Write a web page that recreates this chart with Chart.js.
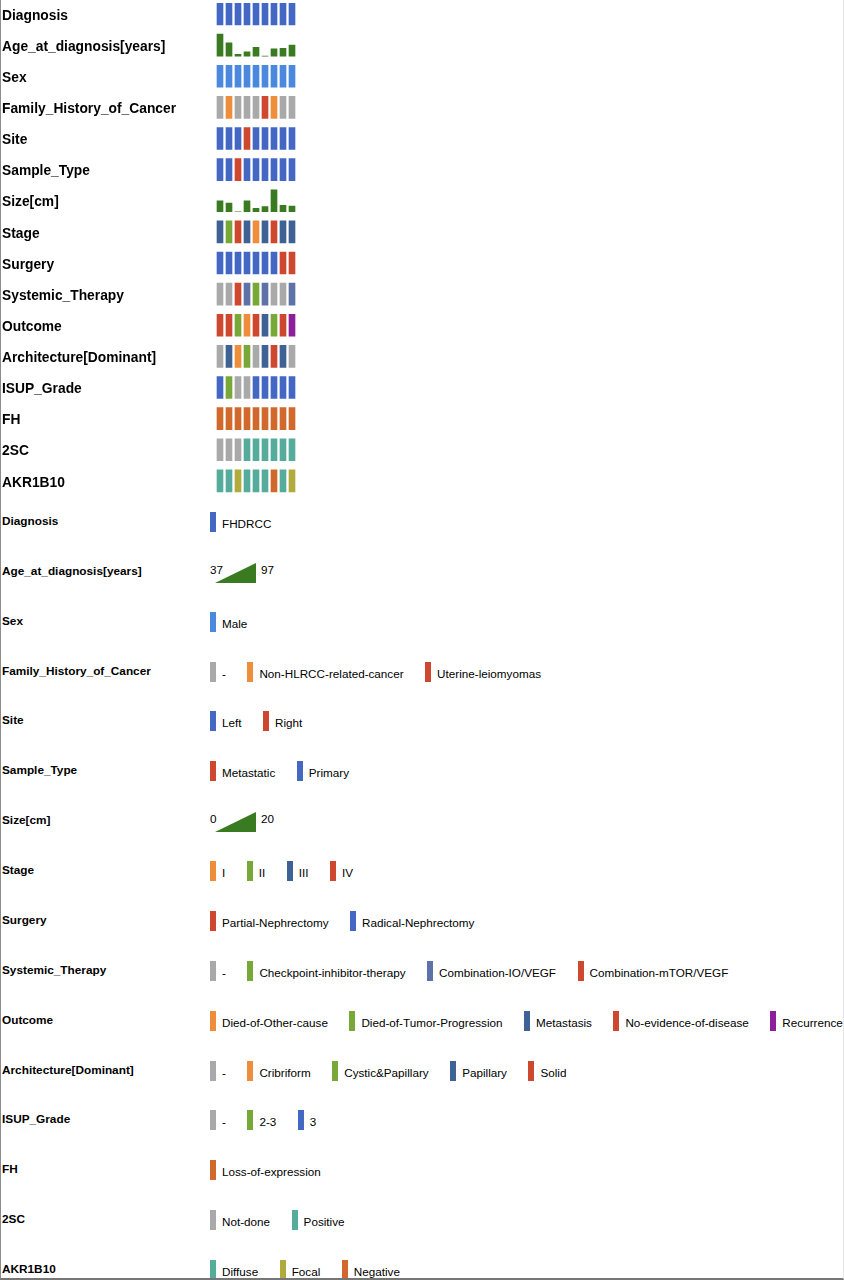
<!DOCTYPE html>
<html>
<head>
<meta charset="utf-8">
<script src="https://cdn.jsdelivr.net/npm/chart.js@4.4.1/dist/chart.umd.min.js"></script>
<style>
  html, body { margin: 0; padding: 0; background: #fff; }
  #frame { position: relative; width: 844px; height: 1280px; overflow: hidden;
           font-family: "Liberation Sans", Arial, Helvetica, sans-serif; color: #000; }
  #heatmap { position: absolute; left: 0; top: 0; }
  #edge { position: absolute; left: 0; top: 0; width: 844px; height: 1280px; box-sizing: border-box;
          border-left: 1px solid #8c8c8c; border-bottom: 2px solid #777; border-right: 1px solid #e6e6e6;
          pointer-events: none; }
  .lrow { position: absolute; left: 0; width: 844px; height: 22px; }
  .lname { position: absolute; left: 2px; top: 0; font-size: 11.8px; font-weight: bold; line-height: 18px; white-space: nowrap; }
  .litems { position: absolute; left: 210px; top: 0; display: flex; white-space: nowrap; }
  .litem { display: flex; align-items: flex-start; margin-right: 21.5px; }
  .sw { width: 6px; height: 20px; }
  .lt { margin-left: 6px; font-size: 11.7px; line-height: 20px; position: relative; top: 2px; }
  .lrange { position: relative; width: 90px; height: 22px; }
  .lrange span { position: absolute; top: 0; font-size: 11.7px; line-height: 16px; }
  .lrange svg { position: absolute; left: 5px; top: 1px; }
</style>
</head>
<body>
<div id="frame">
  <canvas id="heatmap" width="844" height="505"></canvas>
  <div id="legend"></div>
  <div id="edge"></div>
</div>
<script>
// samples (columns)
const sampleIds = ['P1', 'P2', 'P3', 'P4', 'P5', 'P6', 'P7', 'P8', 'P9'];

// annotation values per sample
const diagnosis = ['FHDRCC', 'FHDRCC', 'FHDRCC', 'FHDRCC', 'FHDRCC', 'FHDRCC', 'FHDRCC', 'FHDRCC', 'FHDRCC'];
const ageAtDiagnosis = [97, 73, 42, 49, 61, 37, 57, 58, 67];
const sex = ['Male', 'Male', 'Male', 'Male', 'Male', 'Male', 'Male', 'Male', 'Male'];
const familyHistory = ['-', 'Non-HLRCC-related-cancer', '-', '-', '-', 'Uterine-leiomyomas', 'Non-HLRCC-related-cancer', '-', '-'];
const site = ['Left', 'Left', 'Left', 'Right', 'Left', 'Left', 'Left', 'Left', 'Left'];
const sampleType = ['Primary', 'Primary', 'Metastatic', 'Primary', 'Primary', 'Primary', 'Primary', 'Primary', 'Primary'];
const sizeCm = [10, 7.8, 0, 10, 3, 4.8, 20, 5.8, 5.2];
const stage = ['III', 'II', 'IV', 'III', 'I', 'III', 'IV', 'III', 'III'];
const surgery = ['Radical-Nephrectomy', 'Radical-Nephrectomy', 'Radical-Nephrectomy', 'Radical-Nephrectomy', 'Radical-Nephrectomy',
                 'Radical-Nephrectomy', 'Radical-Nephrectomy', 'Partial-Nephrectomy', 'Partial-Nephrectomy'];
const systemicTherapy = ['-', '-', 'Combination-mTOR/VEGF', 'Combination-IO/VEGF', 'Checkpoint-inhibitor-therapy',
                         'Combination-IO/VEGF', '-', '-', 'Combination-IO/VEGF'];
const outcome = ['No-evidence-of-disease', 'No-evidence-of-disease', 'Died-of-Tumor-Progression', 'Died-of-Other-cause',
                 'No-evidence-of-disease', 'Metastasis', 'Died-of-Tumor-Progression', 'No-evidence-of-disease', 'Recurrence'];
const architecture = ['-', 'Papillary', 'Cribriform', 'Cystic&Papillary', '-', 'Papillary', 'Solid', 'Papillary', '-'];
const isupGrade = ['3', '2-3', '-', '-', '3', '3', '3', '3', '3'];
const fhStatus = ['Loss-of-expression', 'Loss-of-expression', 'Loss-of-expression', 'Loss-of-expression', 'Loss-of-expression',
                  'Loss-of-expression', 'Loss-of-expression', 'Loss-of-expression', 'Loss-of-expression'];
const twoSC = ['Not-done', 'Not-done', 'Not-done', 'Positive', 'Positive', 'Positive', 'Positive', 'Positive', 'Positive'];
const akr1b10 = ['Diffuse', 'Diffuse', 'Focal', 'Diffuse', 'Diffuse', 'Diffuse', 'Negative', 'Diffuse', 'Focal'];

// legend levels
const diagnosisLevels = ['FHDRCC'];
const sexLevels = ['Male'];
const familyLevels = ['-', 'Non-HLRCC-related-cancer', 'Uterine-leiomyomas'];
const siteLevels = ['Left', 'Right'];
const sampleTypeLevels = ['Metastatic', 'Primary'];
const stageLevels = ['I', 'II', 'III', 'IV'];
const surgeryLevels = ['Partial-Nephrectomy', 'Radical-Nephrectomy'];
const therapyLevels = ['-', 'Checkpoint-inhibitor-therapy', 'Combination-IO/VEGF', 'Combination-mTOR/VEGF'];
const outcomeLevels = ['Died-of-Other-cause', 'Died-of-Tumor-Progression', 'Metastasis', 'No-evidence-of-disease', 'Recurrence'];
const architectureLevels = ['-', 'Cribriform', 'Cystic&Papillary', 'Papillary', 'Solid'];
const isupLevels = ['-', '2-3', '3'];
const fhLevels = ['Loss-of-expression'];
const twoSCLevels = ['Not-done', 'Positive'];
const akrLevels = ['Diffuse', 'Focal', 'Negative'];
const ageRange = [37, 97];
const sizeRange = [0, 20];

// colours
const BLUE = '#4467C4', LBLUE = '#4A89DD', GREY = '#A9A9A9', ORANGE = '#EE8E3B', RED = '#CE472F',
      GREEN = '#78A938', NAVY = '#3E6294', SLATE = '#5F72A7', PURPLE = '#8E1F9B', RUST = '#D0692B',
      TEAL = '#55AC9A', OLIVE = '#B0AC3B', NUMGREEN = '#3A7B22';
const diagnosisColors = [BLUE];
const sexColors = [LBLUE];
const familyColors = [GREY, ORANGE, RED];
const siteColors = [BLUE, RED];
const sampleTypeColors = [RED, BLUE];
const stageColors = [ORANGE, GREEN, NAVY, RED];
const surgeryColors = [RED, BLUE];
const therapyColors = [GREY, GREEN, SLATE, RED];
const outcomeColors = [ORANGE, GREEN, NAVY, RED, PURPLE];
const architectureColors = [GREY, ORANGE, GREEN, NAVY, RED];
const isupColors = [GREY, GREEN, BLUE];
const fhColors = [RUST];
const twoSCColors = [GREY, TEAL];
const akrColors = [TEAL, OLIVE, RUST];

const rows = [
  { name: 'Diagnosis', values: diagnosis, levels: diagnosisLevels, colors: diagnosisColors },
  { name: 'Age_at_diagnosis[years]', values: ageAtDiagnosis, range: ageRange },
  { name: 'Sex', values: sex, levels: sexLevels, colors: sexColors },
  { name: 'Family_History_of_Cancer', values: familyHistory, levels: familyLevels, colors: familyColors },
  { name: 'Site', values: site, levels: siteLevels, colors: siteColors },
  { name: 'Sample_Type', values: sampleType, levels: sampleTypeLevels, colors: sampleTypeColors },
  { name: 'Size[cm]', values: sizeCm, range: sizeRange },
  { name: 'Stage', values: stage, levels: stageLevels, colors: stageColors },
  { name: 'Surgery', values: surgery, levels: surgeryLevels, colors: surgeryColors },
  { name: 'Systemic_Therapy', values: systemicTherapy, levels: therapyLevels, colors: therapyColors },
  { name: 'Outcome', values: outcome, levels: outcomeLevels, colors: outcomeColors },
  { name: 'Architecture[Dominant]', values: architecture, levels: architectureLevels, colors: architectureColors },
  { name: 'ISUP_Grade', values: isupGrade, levels: isupLevels, colors: isupColors },
  { name: 'FH', values: fhStatus, levels: fhLevels, colors: fhColors },
  { name: '2SC', values: twoSC, levels: twoSCLevels, colors: twoSCColors },
  { name: 'AKR1B10', values: akr1b10, levels: akrLevels, colors: akrColors }
];

const FONT = '"Liberation Sans", Arial, Helvetica, sans-serif';
const CELL = 22 / 31.13; // cell height as a fraction of one row band

// one floating-bar dataset per annotation row
const datasets = rows.map((row, i) => {
  if (row.range) {
    const [lo, hi] = row.range;
    return {
      data: row.values.map(v => [i + CELL - CELL * (v - lo) / (hi - lo), i + CELL]),
      backgroundColor: NUMGREEN
    };
  }
  return {
    data: row.values.map(() => [i, i + CELL]),
    backgroundColor: row.values.map(v => row.colors[row.levels.indexOf(v)])
  };
}).map(ds => Object.assign(ds, { grouped: false, barThickness: 6, borderWidth: 0 }));

new Chart(document.getElementById('heatmap').getContext('2d'), {
  type: 'bar',
  data: { labels: sampleIds, datasets: datasets },
  options: {
    responsive: false,
    animation: false,
    layout: { padding: { left: 2, right: 547.5, top: 3, bottom: 4 } },
    plugins: { legend: { display: false }, tooltip: { enabled: false } },
    scales: {
      x: { type: 'category', display: false, offset: true },
      y: {
        type: 'linear', min: 0, max: rows.length, reverse: true,
        grid: { display: false }, border: { display: false },
        // label sits a touch below the cell centre
        afterBuildTicks: s => { s.ticks = rows.map((r, i) => ({ value: i + CELL / 2 + 0.06 })); },
        afterFit: s => { s.width = 213.5; s.paddingTop = 0; s.paddingBottom = 0; },
        ticks: {
          autoSkip: false, crossAlign: 'far', color: '#000',
          font: { family: FONT, size: 13.8, weight: 'bold' },
          callback: (v, idx) => rows[idx].name
        }
      }
    }
  }
});

// legend block under the heatmap
const legend = document.getElementById('legend');
rows.forEach((row, k) => {
  const line = document.createElement('div');
  line.className = 'lrow';
  line.style.top = (512 + k * 49.87) + 'px';

  const name = document.createElement('div');
  name.className = 'lname';
  name.textContent = row.name;
  line.appendChild(name);

  const items = document.createElement('div');
  items.className = 'litems';
  if (row.range) {
    const box = document.createElement('div');
    box.className = 'lrange';
    box.innerHTML = '<svg width="41" height="20"><polygon points="0,20 41,20 41,0" fill="' + NUMGREEN + '"/></svg>';
    const lo = document.createElement('span');
    lo.style.left = '0px';
    lo.textContent = row.range[0];
    const hi = document.createElement('span');
    hi.style.left = '51px';
    hi.textContent = row.range[1];
    box.appendChild(lo);
    box.appendChild(hi);
    items.appendChild(box);
  } else {
    row.levels.forEach((lv, j) => {
      const item = document.createElement('div');
      item.className = 'litem';
      const sw = document.createElement('div');
      sw.className = 'sw';
      sw.style.background = row.colors[j];
      const t = document.createElement('span');
      t.className = 'lt';
      t.textContent = lv;
      item.appendChild(sw);
      item.appendChild(t);
      items.appendChild(item);
    });
  }
  line.appendChild(items);
  legend.appendChild(line);
});
</script>
</body>
</html>
